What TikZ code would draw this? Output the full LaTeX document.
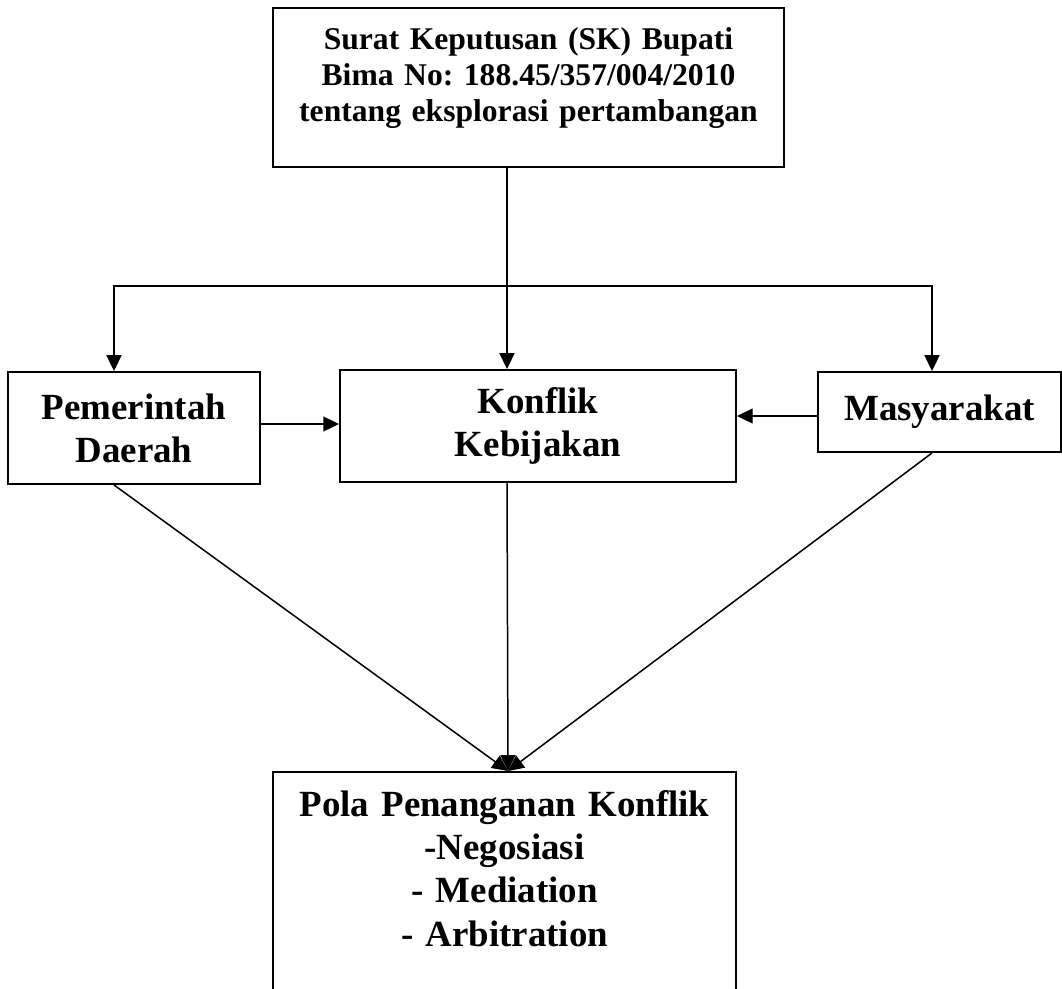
\documentclass[tikz,border=0pt]{standalone}
\usepackage{fontspec}
\setmainfont{Liberation Serif}
\frenchspacing
\usetikzlibrary{arrows.meta}
\tikzset{
  >={Triangle[length=9pt,width=8.5pt]},
  skbox/.style={
    draw,
    line width=1.1pt,
    text width=9.6cm,
    align=center,
    minimum width=10.22cm,
    minimum height=3.18cm,
    inner sep=0pt,
    font=\fontsize{18}{20.7}\selectfont\bfseries
  },
  sidebox/.style={
    draw,
    line width=1.1pt,
    text width=4.4cm,
    align=center,
    inner sep=0pt,
    font=\fontsize{21}{24.5}\selectfont\bfseries
  },
  resultbox/.style={
    draw,
    line width=1.1pt,
    anchor=north,
    text width=8.8cm,
    align=center,
    minimum width=9.26cm,
    inner xsep=0pt,
    inner ysep=10.5pt,
    font=\fontsize{21}{24.6}\selectfont\bfseries
  },
  flowline/.style={
    line width=0.85pt
  }
}
\begin{document}
\begin{tikzpicture}[x=0.02cm,y=-0.02cm]
  \useasboundingbox (0,0) rectangle (1062,988);
  \node[skbox] (sk) at (528.5,87.5) {Surat Keputusan (SK) Bupati\\Bima No: 188.45/357/004/2010\\tentang eksplorasi pertambangan\\[-6pt]\mbox{}};
  \node[sidebox,minimum width=5.04cm,minimum height=2.24cm] (pd) at (134,428) {Pemerintah\\Daerah};
  \node[sidebox,minimum width=7.92cm,minimum height=2.24cm] (kk) at (538,426) {Konflik\\Kebijakan};
  \node[sidebox,minimum width=4.86cm,minimum height=1.6cm] (ms) at (939.5,412) {Masyarakat};
  \node[resultbox] (pp) at (504.5,771) {Pola Penanganan Konflik\\-Negosiasi\\- Mediation\\- Arbitration\\\mbox{}};
  \coordinate (split) at (507,286);
  \coordinate (lt) at (114,286);
  \coordinate (rt) at (932,286);
  \coordinate (tip) at (508,771);
  % from the decree down to the three parties
  \draw[flowline] (sk.south -| split) -- (split);
  \draw[flowline,->] (split) -- (split |- kk.north);
  \draw[flowline,<->] (lt |- pd.north) -- (lt) -- (rt) -- (rt |- ms.north);
  \draw[flowline,->] ([yshift=0.08cm]pd.east) -- ([yshift=0.08cm]pd.east -| kk.west);
  \draw[flowline,->] ([yshift=-0.08cm]ms.west) -- ([yshift=-0.08cm]ms.west -| kk.east);
  % all three lead to the handling pattern
  \draw[flowline,->] (lt |- pd.south) -- (tip);
  \draw[flowline,->] (split |- kk.south) -- (tip);
  \draw[flowline,->] (rt |- ms.south) -- (tip);
\end{tikzpicture}
\end{document}
